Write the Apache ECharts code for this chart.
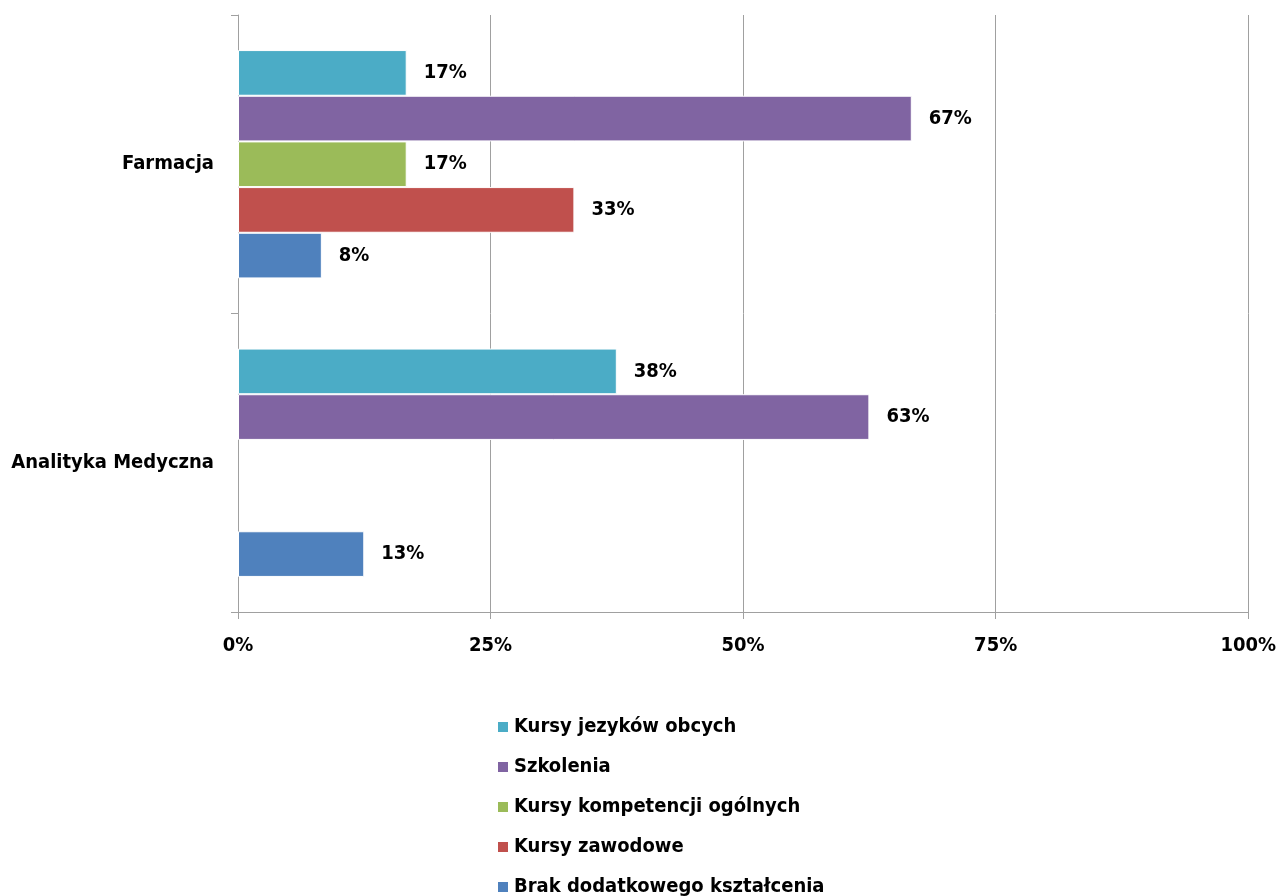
<!DOCTYPE html>
<html>
<head>
<meta charset="utf-8">
<script src="https://cdn.jsdelivr.net/npm/echarts@6/dist/echarts.min.js"></script>
<style>html,body{margin:0;padding:0;background:#fff}#c{width:1279px;height:896px}</style>
</head>
<body>
<div id="c"></div>
<script>
const categories = ['Farmacja', 'Analityka Medyczna'];
const seriesNames = ['Kursy jezyków obcych', 'Szkolenia', 'Kursy kompetencji ogólnych', 'Kursy zawodowe', 'Brak dodatkowego kształcenia'];
const kursyJezykow = [16.7, 37.5];
const szkolenia = [66.7, 62.5];
const kursyKompetencji = [16.7, 0];
const kursyZawodowe = [33.3, 0];
const brakKsztalcenia = [8.3, 12.5];
const xTicks = [0, 25, 50, 75, 100];
const colors = ['#4BACC6', '#8064A2', '#9BBB59', '#C0504D', '#4F81BD'];
const values = [kursyJezykow, szkolenia, kursyKompetencji, kursyZawodowe, brakKsztalcenia];

const FONT = '"Liberation Sans Narrow", "DejaVu Sans Condensed", "Roboto Condensed", sans-serif';
const chart = echarts.init(document.getElementById('c'));
chart.setOption({
  animation: false,
  textStyle: { fontFamily: FONT },
  grid: { left: 238, right: 30, top: 15, bottom: 284 },
  xAxis: {
    type: 'value', min: xTicks[0], max: xTicks[xTicks.length - 1], interval: 25,
    axisLine: { show: true, lineStyle: { color: '#A0A0A0', width: 1 } },
    axisTick: { show: true, length: 7, lineStyle: { color: '#A0A0A0' } },
    splitLine: { show: true, lineStyle: { color: '#A0A0A0', width: 1 } },
    axisLabel: { formatter: '{value}%', margin: 24, fontSize: 20, fontWeight: 'bold', color: '#000', fontFamily: FONT }
  },
  yAxis: {
    type: 'category', data: categories, inverse: true,
    axisLine: { show: true, lineStyle: { color: '#A0A0A0', width: 1 } },
    axisTick: { show: true, length: 7, lineStyle: { color: '#A0A0A0' } },
    axisLabel: { margin: 24, fontSize: 20, fontWeight: 'bold', color: '#000', fontFamily: FONT }
  },
  legend: {
    orient: 'vertical', left: 496, top: 717, height: 180, padding: 0,
    itemGap: 20, itemWidth: 12, itemHeight: 12,
    icon: 'rect',
    textStyle: { fontSize: 20, fontWeight: 'bold', color: '#000', fontFamily: FONT },
    data: seriesNames
  },
  series: seriesNames.map((n, i) => ({
    name: n, type: 'bar', data: values[i].map(v => v > 0 ? v : '-'),
    barGap: '0%', barCategoryGap: '23.5%',
    itemStyle: { color: colors[i], borderColor: '#fff', borderWidth: 1 },
    label: {
      show: true, position: 'right', distance: 17,
      fontSize: 20, fontWeight: 'bold', color: '#000', fontFamily: FONT,
      formatter: p => Math.round(p.value) + '%'
    }
  }))
});
</script>
</body>
</html>
